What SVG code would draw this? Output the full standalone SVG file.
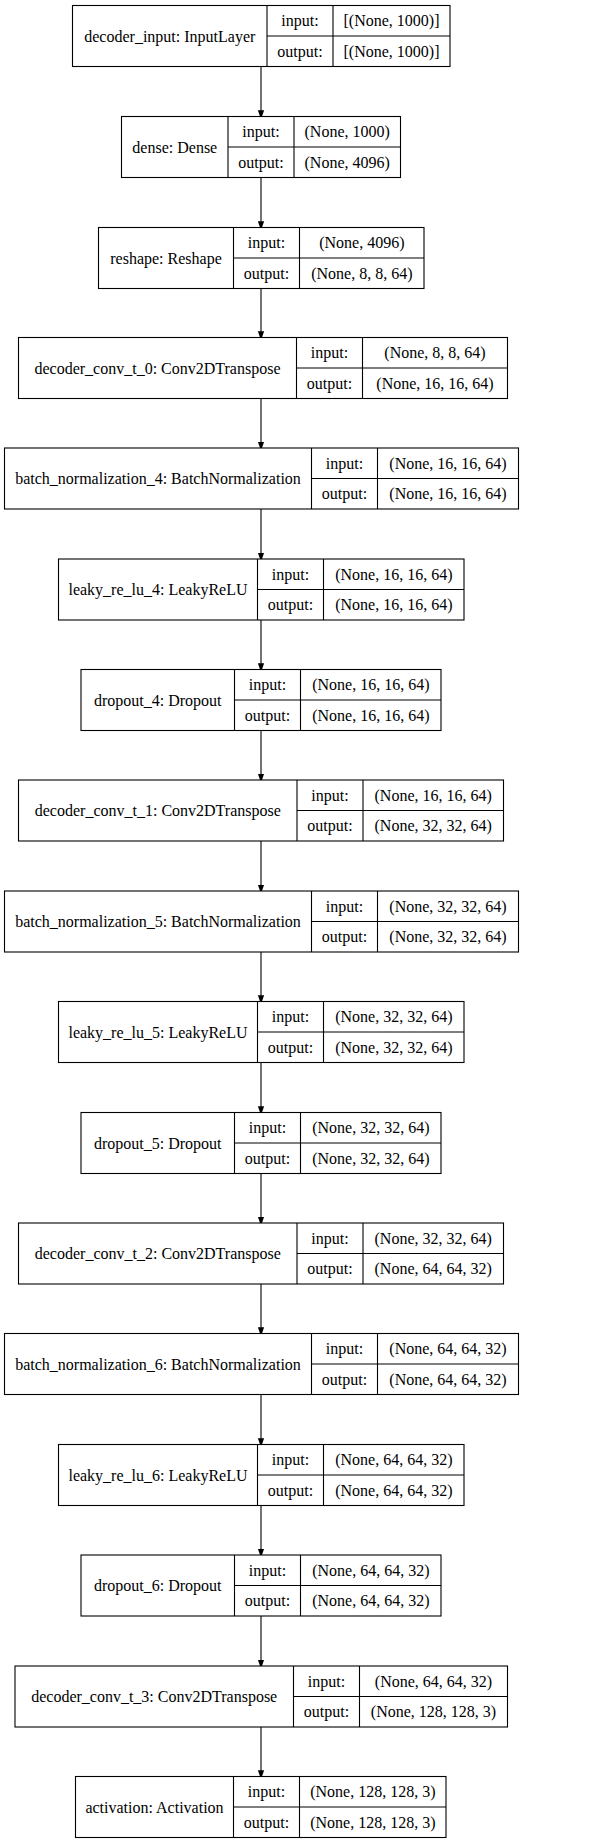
<svg xmlns="http://www.w3.org/2000/svg" width="591" height="1844" viewBox="0 0 591 1844" font-family="'Liberation Serif', 'DejaVu Serif', 'Times New Roman', serif" font-size="16">
<style>
.b{fill:#fff;stroke:#000;stroke-width:1.1}
.l{stroke:#000;stroke-width:1.1}
text{font-family:'Liberation Serif','DejaVu Serif','Times New Roman',serif;font-size:16px;fill:#000;text-anchor:middle}
.e{stroke:#000;stroke-width:1.1;fill:none}
</style>
<defs>
<marker id="ah" markerWidth="9" markerHeight="13" refX="9" refY="4.5" orient="auto" markerUnits="userSpaceOnUse" viewBox="0 0 13 9">
<path d="M0,0 L13,4.5 L0,9 Z" fill="#000"/>
</marker>
</defs>
<rect width="591" height="1844" fill="#fff"/>
<g id="connectors">
<line class="e" x1="261" y1="66.5" x2="261" y2="116.5" marker-end="url(#ah)"/>
<line class="e" x1="261" y1="177.5" x2="261" y2="227.5" marker-end="url(#ah)"/>
<line class="e" x1="261" y1="288.5" x2="261" y2="337.5" marker-end="url(#ah)"/>
<line class="e" x1="261" y1="398.5" x2="261" y2="448" marker-end="url(#ah)"/>
<line class="e" x1="261" y1="509" x2="261" y2="559" marker-end="url(#ah)"/>
<line class="e" x1="261" y1="620" x2="261" y2="669.5" marker-end="url(#ah)"/>
<line class="e" x1="261" y1="730.5" x2="261" y2="780" marker-end="url(#ah)"/>
<line class="e" x1="261" y1="841" x2="261" y2="891" marker-end="url(#ah)"/>
<line class="e" x1="261" y1="952" x2="261" y2="1001.5" marker-end="url(#ah)"/>
<line class="e" x1="261" y1="1062.5" x2="261" y2="1112.5" marker-end="url(#ah)"/>
<line class="e" x1="261" y1="1173.5" x2="261" y2="1223" marker-end="url(#ah)"/>
<line class="e" x1="261" y1="1284" x2="261" y2="1333.5" marker-end="url(#ah)"/>
<line class="e" x1="261" y1="1394.5" x2="261" y2="1444.5" marker-end="url(#ah)"/>
<line class="e" x1="261" y1="1505.5" x2="261" y2="1555" marker-end="url(#ah)"/>
<line class="e" x1="261" y1="1616" x2="261" y2="1666" marker-end="url(#ah)"/>
<line class="e" x1="261" y1="1727" x2="261" y2="1776.5" marker-end="url(#ah)"/>
</g>
<g id="n1">
<rect class="b" x="72.5" y="5.5" width="377.5" height="61"/>
<line class="l" x1="267" y1="5.5" x2="267" y2="66.5"/><line class="l" x1="333" y1="5.5" x2="333" y2="66.5"/><line class="l" x1="267" y1="36" x2="450" y2="36"/>
<text x="169.8" y="41.5">decoder_input: InputLayer</text>
<text x="300" y="26">input:</text><text x="391.5" y="26">[(None, 1000)]</text>
<text x="300" y="56.5">output:</text><text x="391.5" y="56.5">[(None, 1000)]</text>
</g>
<g id="n2">
<rect class="b" x="121.5" y="116.5" width="279" height="61"/>
<line class="l" x1="228" y1="116.5" x2="228" y2="177.5"/><line class="l" x1="294" y1="116.5" x2="294" y2="177.5"/><line class="l" x1="228" y1="147" x2="400.5" y2="147"/>
<text x="174.8" y="152.5">dense: Dense</text>
<text x="261" y="137">input:</text><text x="347.2" y="137">(None, 1000)</text>
<text x="261" y="167.5">output:</text><text x="347.2" y="167.5">(None, 4096)</text>
</g>
<g id="n3">
<rect class="b" x="98.5" y="227.5" width="325.5" height="61"/>
<line class="l" x1="233.5" y1="227.5" x2="233.5" y2="288.5"/><line class="l" x1="299.5" y1="227.5" x2="299.5" y2="288.5"/><line class="l" x1="233.5" y1="258" x2="424" y2="258"/>
<text x="166" y="263.5">reshape: Reshape</text>
<text x="266.5" y="248">input:</text><text x="361.8" y="248">(None, 4096)</text>
<text x="266.5" y="278.5">output:</text><text x="361.8" y="278.5">(None, 8, 8, 64)</text>
</g>
<g id="n4">
<rect class="b" x="18.5" y="337.5" width="489" height="61"/>
<line class="l" x1="296.5" y1="337.5" x2="296.5" y2="398.5"/><line class="l" x1="362.5" y1="337.5" x2="362.5" y2="398.5"/><line class="l" x1="296.5" y1="368" x2="507.5" y2="368"/>
<text x="157.5" y="373.5">decoder_conv_t_0: Conv2DTranspose</text>
<text x="329.5" y="358">input:</text><text x="435" y="358">(None, 8, 8, 64)</text>
<text x="329.5" y="388.5">output:</text><text x="435" y="388.5">(None, 16, 16, 64)</text>
</g>
<g id="n5">
<rect class="b" x="4.5" y="448" width="514" height="61"/>
<line class="l" x1="311.5" y1="448" x2="311.5" y2="509"/><line class="l" x1="377.5" y1="448" x2="377.5" y2="509"/><line class="l" x1="311.5" y1="478.5" x2="518.5" y2="478.5"/>
<text x="158" y="484">batch_normalization_4: BatchNormalization</text>
<text x="344.5" y="468.5">input:</text><text x="448" y="468.5">(None, 16, 16, 64)</text>
<text x="344.5" y="499">output:</text><text x="448" y="499">(None, 16, 16, 64)</text>
</g>
<g id="n6">
<rect class="b" x="58.5" y="559" width="405.5" height="61"/>
<line class="l" x1="257.5" y1="559" x2="257.5" y2="620"/><line class="l" x1="323.5" y1="559" x2="323.5" y2="620"/><line class="l" x1="257.5" y1="589.5" x2="464" y2="589.5"/>
<text x="158" y="595">leaky_re_lu_4: LeakyReLU</text>
<text x="290.5" y="579.5">input:</text><text x="393.8" y="579.5">(None, 16, 16, 64)</text>
<text x="290.5" y="610">output:</text><text x="393.8" y="610">(None, 16, 16, 64)</text>
</g>
<g id="n7">
<rect class="b" x="81" y="669.5" width="360" height="61"/>
<line class="l" x1="234.5" y1="669.5" x2="234.5" y2="730.5"/><line class="l" x1="300.5" y1="669.5" x2="300.5" y2="730.5"/><line class="l" x1="234.5" y1="700" x2="441" y2="700"/>
<text x="157.8" y="705.5">dropout_4: Dropout</text>
<text x="267.5" y="690">input:</text><text x="370.8" y="690">(None, 16, 16, 64)</text>
<text x="267.5" y="720.5">output:</text><text x="370.8" y="720.5">(None, 16, 16, 64)</text>
</g>
<g id="n8">
<rect class="b" x="18.5" y="780" width="485" height="61"/>
<line class="l" x1="297" y1="780" x2="297" y2="841"/><line class="l" x1="363" y1="780" x2="363" y2="841"/><line class="l" x1="297" y1="810.5" x2="503.5" y2="810.5"/>
<text x="157.8" y="816">decoder_conv_t_1: Conv2DTranspose</text>
<text x="330" y="800.5">input:</text><text x="433.2" y="800.5">(None, 16, 16, 64)</text>
<text x="330" y="831">output:</text><text x="433.2" y="831">(None, 32, 32, 64)</text>
</g>
<g id="n9">
<rect class="b" x="4.5" y="891" width="514" height="61"/>
<line class="l" x1="311.5" y1="891" x2="311.5" y2="952"/><line class="l" x1="377.5" y1="891" x2="377.5" y2="952"/><line class="l" x1="311.5" y1="921.5" x2="518.5" y2="921.5"/>
<text x="158" y="927">batch_normalization_5: BatchNormalization</text>
<text x="344.5" y="911.5">input:</text><text x="448" y="911.5">(None, 32, 32, 64)</text>
<text x="344.5" y="942">output:</text><text x="448" y="942">(None, 32, 32, 64)</text>
</g>
<g id="n10">
<rect class="b" x="58.5" y="1001.5" width="405.5" height="61"/>
<line class="l" x1="257.5" y1="1001.5" x2="257.5" y2="1062.5"/><line class="l" x1="323.5" y1="1001.5" x2="323.5" y2="1062.5"/><line class="l" x1="257.5" y1="1032" x2="464" y2="1032"/>
<text x="158" y="1037.5">leaky_re_lu_5: LeakyReLU</text>
<text x="290.5" y="1022">input:</text><text x="393.8" y="1022">(None, 32, 32, 64)</text>
<text x="290.5" y="1052.5">output:</text><text x="393.8" y="1052.5">(None, 32, 32, 64)</text>
</g>
<g id="n11">
<rect class="b" x="81" y="1112.5" width="360" height="61"/>
<line class="l" x1="234.5" y1="1112.5" x2="234.5" y2="1173.5"/><line class="l" x1="300.5" y1="1112.5" x2="300.5" y2="1173.5"/><line class="l" x1="234.5" y1="1143" x2="441" y2="1143"/>
<text x="157.8" y="1148.5">dropout_5: Dropout</text>
<text x="267.5" y="1133">input:</text><text x="370.8" y="1133">(None, 32, 32, 64)</text>
<text x="267.5" y="1163.5">output:</text><text x="370.8" y="1163.5">(None, 32, 32, 64)</text>
</g>
<g id="n12">
<rect class="b" x="18.5" y="1223" width="485" height="61"/>
<line class="l" x1="297" y1="1223" x2="297" y2="1284"/><line class="l" x1="363" y1="1223" x2="363" y2="1284"/><line class="l" x1="297" y1="1253.5" x2="503.5" y2="1253.5"/>
<text x="157.8" y="1259">decoder_conv_t_2: Conv2DTranspose</text>
<text x="330" y="1243.5">input:</text><text x="433.2" y="1243.5">(None, 32, 32, 64)</text>
<text x="330" y="1274">output:</text><text x="433.2" y="1274">(None, 64, 64, 32)</text>
</g>
<g id="n13">
<rect class="b" x="4.5" y="1333.5" width="514" height="61"/>
<line class="l" x1="311.5" y1="1333.5" x2="311.5" y2="1394.5"/><line class="l" x1="377.5" y1="1333.5" x2="377.5" y2="1394.5"/><line class="l" x1="311.5" y1="1364" x2="518.5" y2="1364"/>
<text x="158" y="1369.5">batch_normalization_6: BatchNormalization</text>
<text x="344.5" y="1354">input:</text><text x="448" y="1354">(None, 64, 64, 32)</text>
<text x="344.5" y="1384.5">output:</text><text x="448" y="1384.5">(None, 64, 64, 32)</text>
</g>
<g id="n14">
<rect class="b" x="58.5" y="1444.5" width="405.5" height="61"/>
<line class="l" x1="257.5" y1="1444.5" x2="257.5" y2="1505.5"/><line class="l" x1="323.5" y1="1444.5" x2="323.5" y2="1505.5"/><line class="l" x1="257.5" y1="1475" x2="464" y2="1475"/>
<text x="158" y="1480.5">leaky_re_lu_6: LeakyReLU</text>
<text x="290.5" y="1465">input:</text><text x="393.8" y="1465">(None, 64, 64, 32)</text>
<text x="290.5" y="1495.5">output:</text><text x="393.8" y="1495.5">(None, 64, 64, 32)</text>
</g>
<g id="n15">
<rect class="b" x="81" y="1555" width="360" height="61"/>
<line class="l" x1="234.5" y1="1555" x2="234.5" y2="1616"/><line class="l" x1="300.5" y1="1555" x2="300.5" y2="1616"/><line class="l" x1="234.5" y1="1585.5" x2="441" y2="1585.5"/>
<text x="157.8" y="1591">dropout_6: Dropout</text>
<text x="267.5" y="1575.5">input:</text><text x="370.8" y="1575.5">(None, 64, 64, 32)</text>
<text x="267.5" y="1606">output:</text><text x="370.8" y="1606">(None, 64, 64, 32)</text>
</g>
<g id="n16">
<rect class="b" x="15" y="1666" width="492.5" height="61"/>
<line class="l" x1="293.5" y1="1666" x2="293.5" y2="1727"/><line class="l" x1="359.5" y1="1666" x2="359.5" y2="1727"/><line class="l" x1="293.5" y1="1696.5" x2="507.5" y2="1696.5"/>
<text x="154.2" y="1702">decoder_conv_t_3: Conv2DTranspose</text>
<text x="326.5" y="1686.5">input:</text><text x="433.5" y="1686.5">(None, 64, 64, 32)</text>
<text x="326.5" y="1717">output:</text><text x="433.5" y="1717">(None, 128, 128, 3)</text>
</g>
<g id="n17">
<rect class="b" x="75.5" y="1776.5" width="370.5" height="61"/>
<line class="l" x1="233.5" y1="1776.5" x2="233.5" y2="1837.5"/><line class="l" x1="299.5" y1="1776.5" x2="299.5" y2="1837.5"/><line class="l" x1="233.5" y1="1807" x2="446" y2="1807"/>
<text x="154.5" y="1812.5">activation: Activation</text>
<text x="266.5" y="1797">input:</text><text x="372.8" y="1797">(None, 128, 128, 3)</text>
<text x="266.5" y="1827.5">output:</text><text x="372.8" y="1827.5">(None, 128, 128, 3)</text>
</g>
</svg>
